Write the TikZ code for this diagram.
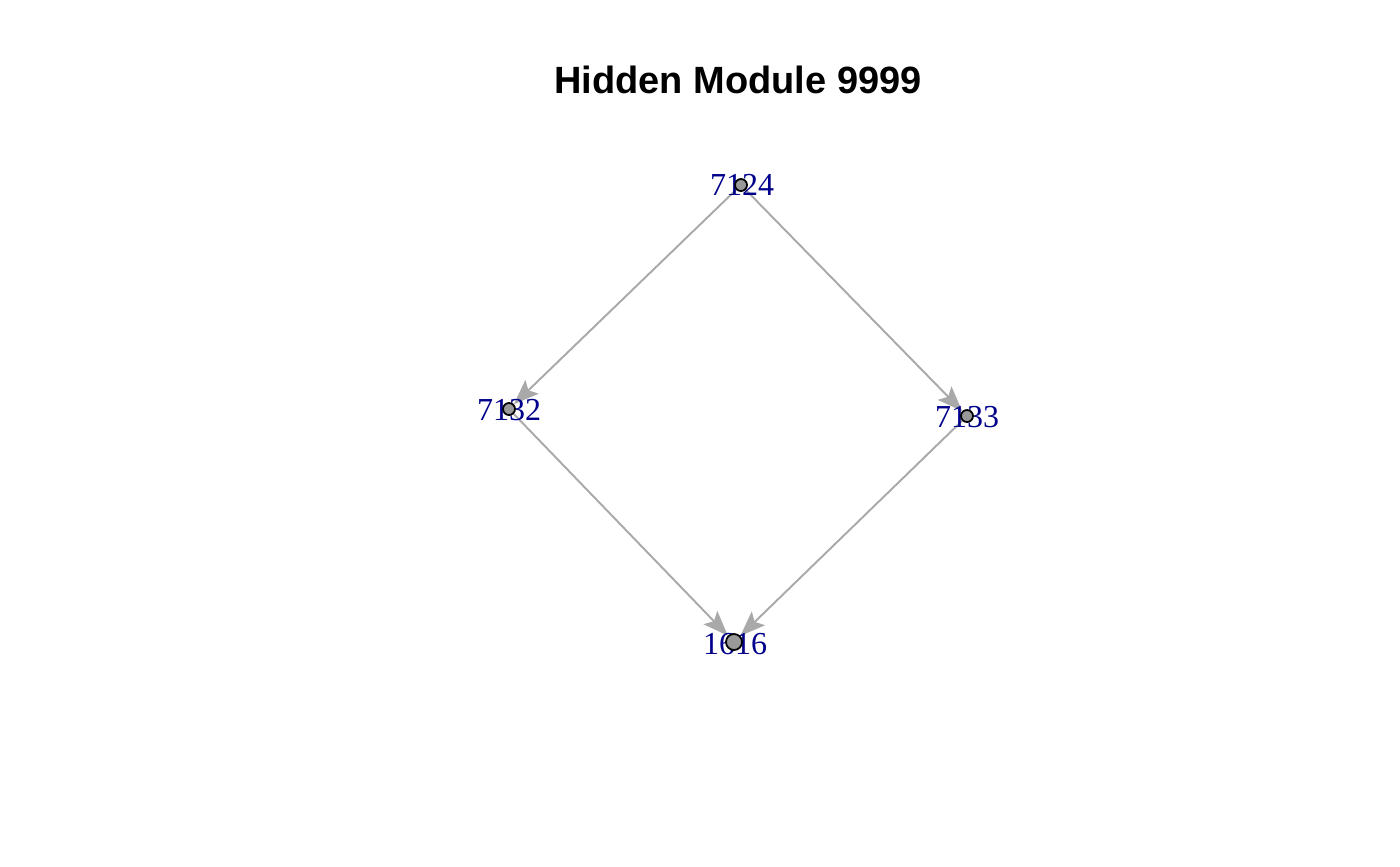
\documentclass[tikz,border=0pt]{standalone}
\usepackage{fontspec}
\setmainfont{Liberation Serif}
\newfontfamily\titlefont{Liberation Sans}
\usetikzlibrary{arrows.meta,backgrounds}
\definecolor{edgegray}{RGB}{169,169,169}
\definecolor{vertgray}{RGB}{153,153,153}
\definecolor{labelblue}{RGB}{0,0,139}

\begin{document}
\begin{tikzpicture}[x=0.01cm, y=-0.01cm,
    vert/.style={draw=black, fill=vertgray, circle, inner sep=0pt, line width=0.5pt, minimum size=0.12cm},
    bigvert/.style={vert, minimum size=0.16cm},
    vlabel/.style={text=labelblue, font=\fontsize{9.1}{10}\selectfont, inner sep=0pt},
    link/.style={draw=edgegray, line width=0.55pt, -{Stealth[length=0.25cm, width=0.19cm, inset=0.05cm]}}]
  \useasboundingbox (0,0) rectangle (1400,866);
  \node[font=\titlefont\bfseries\fontsize{10.8}{13}\selectfont] (title) at (738,80) {Hidden Module 9999};

  % labels, then vertices on top
  \node[vlabel] (t7124) at (742,185) {7124};
  \node[vlabel] (t7132) at (509,410) {7132};
  \node[vlabel] (t7133) at (967,417) {7133};
  \node[vlabel] (t1616) at (735,644) {1616};

  \node[vert] (v7124) at (741,185) {};
  \node[vert] (v7132) at (509,409) {};
  \node[vert] (v7133) at (967,416) {};
  \node[bigvert] (v1616) at (734,642) {};

  \begin{scope}[on background layer]
    \draw[link] (v7124) -- (v7132);
    \draw[link] (v7124) -- (v7133);
    \draw[link] (v7132) -- (v1616);
    \draw[link] (v7133) -- (v1616);
  \end{scope}
\end{tikzpicture}
\end{document}
